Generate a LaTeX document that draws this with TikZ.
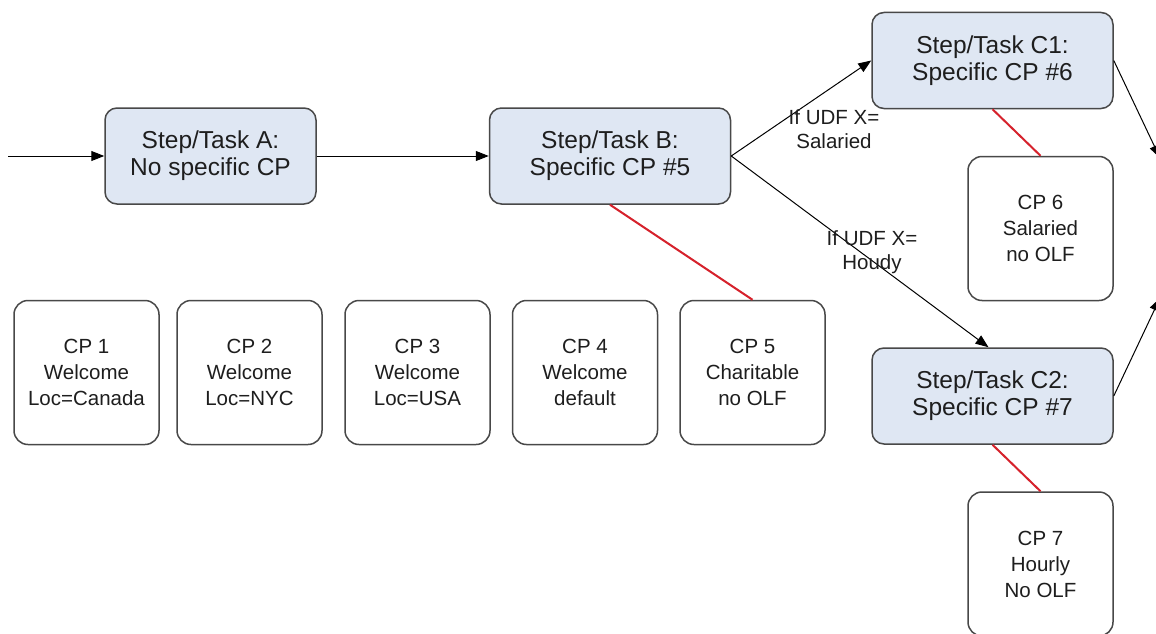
\documentclass[tikz,border=0pt]{standalone}
\usepackage{fontspec}
\setmainfont{Liberation Sans}
\usepackage{tikz}
\usetikzlibrary{positioning}
\usetikzlibrary{calc}
\usetikzlibrary{arrows.meta}
\definecolor{taskfill}{RGB}{223,231,243}
\definecolor{boxline}{RGB}{72,72,72}
\definecolor{cpred}{RGB}{214,34,44}
\definecolor{inktext}{RGB}{30,30,30}

\begin{document}
\begin{tikzpicture}[x=1pt,y=-1pt,
  task/.style={draw=boxline,line width=1.5pt,fill=taskfill,rounded corners=12pt,
    align=center,inner sep=0pt,minimum height=96pt,text=inktext,
    font=\fontsize{24.5}{27}\selectfont},
  cpbox/.style={draw=boxline,line width=1.5pt,fill=white,rounded corners=14pt,
    align=center,inner sep=0pt,minimum width=145pt,minimum height=144pt,text=inktext,
    font=\fontsize{20.5}{26}\selectfont},
  lbl/.style={align=center,inner sep=0pt,text=inktext,font=\fontsize{20.5}{23.5}\selectfont},
  flow/.style={draw=black,line width=1pt,-{Triangle[length=13pt,width=10pt]}},
  redlink/.style={draw=cpred,line width=2pt}]
\clip (0,0) rectangle (1156,634);
\fill[white] (0,0) rectangle (1156,634);
% steps
\node[task,minimum width=211pt] (taskA) at (210.5,156) {Step/Task A:\\No specific CP};
\node[task,minimum width=241pt] (taskB) at (610,156) {Step/Task B:\\Specific CP \#5};
\node[task,minimum width=241pt] (taskC1) at (992.5,60.5) {Step/Task C1:\\Specific CP \#6};
\node[task,minimum width=241pt] (taskC2) at (992.5,396) {Step/Task C2:\\Specific CP \#7};
% check points
\foreach \n/\x/\t in {1/86.5/{Welcome\\Loc=Canada},2/249.5/{Welcome\\Loc=NYC},
  3/417.5/{Welcome\\Loc=USA},4/585/{Welcome\\default},5/752.5/{Charitable\\no OLF}}
\node[cpbox] (cp\n) at (\x,372.5) {CP \n\\\t};
\node[cpbox] (cp6) at (1040.5,228.5) {CP 6\\Salaried\\no OLF};
\node[cpbox] (cp7) at (1040.5,564) {CP 7\\Hourly\\No OLF};
% flow
\coordinate (start) at (8,156);
\coordinate (outC1) at (1160,158);
\coordinate (outC2) at (1160,298);
\draw[flow] (start) -- (taskA.west);
\draw[flow] (taskA.east) -- (taskB.west);
\draw[flow] (taskB.east) -- (taskC1.west);
\draw[flow] (taskB.east) -- ([xshift=-4pt]taskC2.north);
\draw[flow] (taskC1.east) -- (outC1);
\draw[flow] (taskC2.east) -- (outC2);
\node[lbl] (ifSal) at (834,129) {If UDF X=\\Salaried};
\node[lbl] (ifHou) at (872,252) {If UDF X=\\Houdy};
% links to check points
\draw[redlink] (taskB.south) -- (cp5.north);
\draw[redlink] (taskC1.south) -- (cp6.north);
\draw[redlink] (taskC2.south) -- (cp7.north);
\end{tikzpicture}
\end{document}
